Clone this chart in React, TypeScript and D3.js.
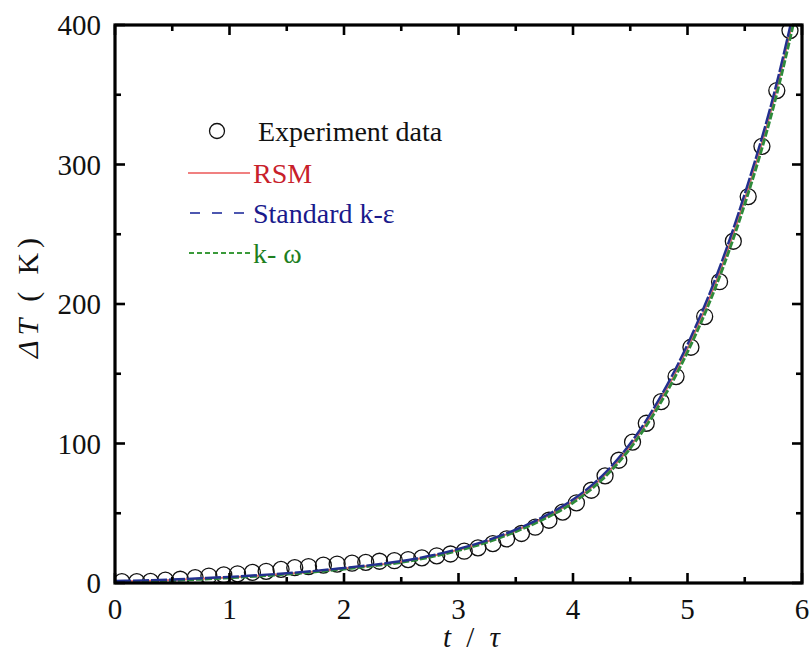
import React from "react";
import * as d3 from "d3";

// Experiment data
const expT = [0.06, 0.19, 0.31, 0.44, 0.57, 0.7, 0.82, 0.95, 1.07, 1.2, 1.32, 1.45, 1.57, 1.69, 1.82, 1.94, 2.07, 2.19, 2.31, 2.44, 2.56, 2.68, 2.81, 2.93, 3.05, 3.17, 3.3, 3.42, 3.55, 3.67, 3.79, 3.91, 4.03, 4.16, 4.28, 4.4, 4.52, 4.64, 4.77, 4.9, 5.03, 5.15, 5.28, 5.4, 5.53, 5.65, 5.78, 5.895];
const expY = [1.0, 1.0, 1.2, 2.0, 2.7, 3.8, 5.0, 5.8, 6.6, 7.6, 8.4, 9.8, 11.0, 11.8, 12.8, 13.6, 14.2, 14.8, 15.6, 16.0, 16.8, 18.0, 19.5, 20.8, 22.8, 25.2, 28.2, 31.6, 35.5, 40.0, 45.0, 50.8, 57.5, 66.5, 76.8, 88.0, 101, 114.5, 130, 148, 169, 191, 216, 245, 277, 313, 353, 396];

// Model curves
const modelT = [0, 0.25, 0.5, 0.75, 1.0, 1.25, 1.5, 1.75, 2.0, 2.25, 2.5, 2.75, 3.0, 3.25, 3.5, 3.75, 4.0, 4.25, 4.5, 4.75, 5.0, 5.25, 5.5, 5.75, 6.0];
const rsmY = [1.0, 1.5, 2.1, 3.0, 4.0, 5.2, 6.6, 8.3, 10.4, 12.6, 15.2, 19.0, 23.8, 29.8, 37.5, 46.8, 58.5, 75, 98, 129, 168, 216, 275, 345, 432];
const keY = [1.4, 1.9, 2.5, 3.4, 4.4, 5.6, 7.0, 8.7, 10.8, 13.0, 15.7, 19.5, 24.4, 30.5, 38.3, 47.8, 59.8, 76.5, 100, 131.5, 171, 219.5, 279, 349, 437];
const kwY = [0.7, 1.2, 1.8, 2.7, 3.7, 4.9, 6.3, 8.0, 10.0, 12.2, 14.8, 18.5, 23.3, 29.2, 36.8, 46.0, 57.5, 73.8, 96.5, 127, 165.5, 213, 271.5, 341, 428];

const xTicks = [0, 1, 2, 3, 4, 5, 6];
const xMinor = [0.5, 1.5, 2.5, 3.5, 4.5, 5.5];
const yTicks = [0, 100, 200, 300, 400];
const yMinor = [50, 150, 250, 350];

const legendLabels = ["Experiment data", "RSM", "Standard k-\u03b5", "k- \u03c9"];

const FONT = "'Liberation Serif', 'Times New Roman', Times, serif";

export default function App() {
  const W = 811, H = 656;
  const L = 115, R = 802, T = 25, B = 583;
  const x = d3.scaleLinear().domain([0, 6]).range([L, R]);
  const y = d3.scaleLinear().domain([0, 400]).range([B, T]);

  const line = d3
    .line<number>()
    .x((_, i) => x(modelT[i]))
    .y((d) => y(d))
    .curve(d3.curveMonotoneX);

  const majorLen = 10;
  const minorLen = 6;
  const axisW = 3.2;

  return (
    <svg
      width={W}
      height={H}
      style={{ position: "absolute", left: 0, top: 0, background: "#fff" }}
      fontFamily={FONT}
    >
      <defs>
        <clipPath id="plotclip">
          <rect x={L} y={T} width={R - L} height={B - T} />
        </clipPath>
      </defs>
      <rect x={0} y={0} width={W} height={H} fill="#fff" />

      <g clipPath="url(#plotclip)">
        {expT.map((t, i) => (
          <circle
            key={i}
            cx={x(t)}
            cy={y(expY[i])}
            r={8}
            fill="none"
            stroke="#111"
            strokeWidth={1.3}
          />
        ))}
        <path d={line(rsmY) || ""} fill="none" stroke="#e06a6a" strokeWidth={2} />
        <path d={line(kwY) || ""} fill="none" stroke="#2e8b3a" strokeWidth={2.8} strokeDasharray="7,2" />
        <path d={line(keY) || ""} fill="none" stroke="#22308f" strokeWidth={2.4} strokeDasharray="16,2" />
      </g>

      {/* ticks */}
      <g stroke="#000" strokeWidth={2.6}>
        {xTicks.map((v) => (
          <g key={"xt" + v}>
            <line x1={x(v)} x2={x(v)} y1={B} y2={B - majorLen} />
            <line x1={x(v)} x2={x(v)} y1={T} y2={T + majorLen} />
          </g>
        ))}
        {xMinor.map((v) => (
          <g key={"xm" + v}>
            <line x1={x(v)} x2={x(v)} y1={B} y2={B - minorLen} />
            <line x1={x(v)} x2={x(v)} y1={T} y2={T + minorLen} />
          </g>
        ))}
        {yTicks.map((v) => (
          <g key={"yt" + v}>
            <line x1={L} x2={L + majorLen} y1={y(v)} y2={y(v)} />
            <line x1={R} x2={R - majorLen} y1={y(v)} y2={y(v)} />
          </g>
        ))}
        {yMinor.map((v) => (
          <g key={"ym" + v}>
            <line x1={L} x2={L + minorLen} y1={y(v)} y2={y(v)} />
            <line x1={R} x2={R - minorLen} y1={y(v)} y2={y(v)} />
          </g>
        ))}
      </g>

      <rect x={L} y={T} width={R - L} height={B - T} fill="none" stroke="#000" strokeWidth={axisW} />

      {/* tick labels */}
      <g fontSize={29} fill="#111">
        {xTicks.map((v) => (
          <text key={"xl" + v} x={x(v)} y={619} textAnchor="middle">
            {v}
          </text>
        ))}
        {yTicks.map((v) => (
          <text key={"yl" + v} x={101} y={y(v) + 10} textAnchor="end">
            {v}
          </text>
        ))}
      </g>

      {/* axis titles */}
      <text x={443} y={647} fontSize={29} fill="#111" textLength={57} lengthAdjust="spacing">
        <tspan fontStyle="italic">t</tspan>
        <tspan> / </tspan>
        <tspan fontStyle="italic">{"\u03c4"}</tspan>
      </text>
      <text
        transform={`translate(38, 358) rotate(-90)`}
        fontSize={30}
        fill="#111"
        textLength={120}
        lengthAdjust="spacing"
      >
        <tspan fontStyle="italic">{"\u0394"}</tspan>
        <tspan fontStyle="italic">T</tspan>
        <tspan>{" ( K)"}</tspan>
      </text>

      {/* legend */}
      <g fontSize={28}>
        <circle cx={217} cy={131} r={7.5} fill="none" stroke="#111" strokeWidth={1.3} />
        <text x={258} y={141} fill="#111">{legendLabels[0]}</text>

        <line x1={188} x2={250} y1={173} y2={173} stroke="#f08080" strokeWidth={2} />
        <text x={253} y={183} fill="#c8202a">{legendLabels[1]}</text>

        <line x1={190} x2={252} y1={213} y2={213} stroke="#4d57b0" strokeWidth={2} strokeDasharray="10,12" />
        <text x={253} y={223} fill="#1a1a8c">{legendLabels[2]}</text>

        <line x1={189} x2={250} y1={253} y2={253} stroke="#3a9a3a" strokeWidth={2} strokeDasharray="5,3" />
        <text x={253} y={263} fill="#1e7f1e">{legendLabels[3]}</text>
      </g>
    </svg>
  );
}
